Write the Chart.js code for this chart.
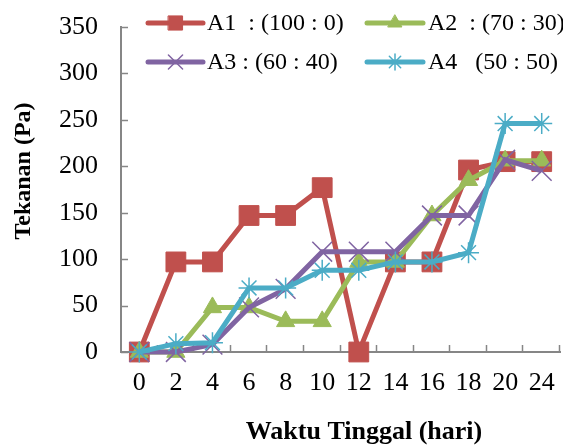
<!DOCTYPE html>
<html>
<head>
<meta charset="utf-8">
<script src="https://cdn.jsdelivr.net/npm/chart.js@4/dist/chart.umd.min.js"></script>
<style>
  html, body { margin: 0; padding: 0; background: #fff; }
</style>
</head>
<body>
<canvas id="myLineChart" width="563" height="445"></canvas>
<script>
const days = ['0', '2', '4', '6', '8', '10', '12', '14', '16', '18', '20', '24'];
const a1Values = [0, 97, 97, 147, 147, 177, 0, 97, 97, 196, 205, 205];
const a2Values = [0, 0, 48, 48, 33, 33, 97, 97, 147, 185, 206, 206];
const a3Values = [0, 0, 8, 48, 68, 108, 108, 108, 147, 147, 207, 195];
const a4Values = [0, 9, 10, 69, 69, 88, 88, 97, 97, 107, 246, 246];
const yTicks = [0, 50, 100, 150, 200, 250, 300, 350];

const serif = '"Liberation Serif", "Times New Roman", serif';
const axisGrey = '#868686';

const series = [
  { label: 'A1  : (100 : 0)', data: a1Values, color: '#C0504D', style: 'rect', radius: 14, legendRadius: 10, lw: 1 },
  { label: 'A2  : (70 : 30)', data: a2Values, color: '#9BBB59', style: 'triangle', radius: 10.5, legendRadius: 8, lw: 1 },
  { label: 'A3 : (60 : 40)', data: a3Values, color: '#8064A2', style: 'crossRot', radius: 14, legendRadius: 10, lw: 1.5 },
  { label: 'A4   (50 : 50)', data: a4Values, color: '#4BACC6', style: 'star', radius: 10.5, legendRadius: 8, lw: 1.5 }
];

// legend spots: [line start, line end, text x, y]
const legendSpots = [
  [148, 203, 207, 23],
  [367, 423, 428, 23],
  [148, 203, 207, 62],
  [367, 423, 428, 62]
];

const extrasPlugin = {
  id: 'extras',
  beforeDatasetsDraw(chart) {
    const ctx = chart.ctx;
    const y = chart.scales.y;
    const area = chart.chartArea;
    ctx.save();
    ctx.strokeStyle = axisGrey;
    ctx.lineWidth = 1.5;
    ctx.beginPath();
    // inward ticks on y
    yTicks.forEach(v => {
      const py = Math.round(y.getPixelForValue(v)) + 0.5;
      ctx.moveTo(area.left, py);
      ctx.lineTo(area.left + 7, py);
    });
    // inward ticks on x, between categories
    const step = (area.right - area.left) / days.length;
    for (let i = 1; i <= days.length; i++) {
      const px = Math.round(area.left + i * step) - 0.5;
      ctx.moveTo(px, area.bottom);
      ctx.lineTo(px, area.bottom - 7);
    }
    ctx.stroke();
    ctx.restore();
  },
  afterDraw(chart) {
    const ctx = chart.ctx;
    ctx.save();
    ctx.fillStyle = '#000';
    // axis titles
    ctx.font = 'bold 26px ' + serif;
    ctx.textAlign = 'center';
    ctx.textBaseline = 'middle';
    ctx.fillText('Waktu Tinggal (hari)', 364, 432);
    ctx.save();
    ctx.translate(24, 171);
    ctx.rotate(-Math.PI / 2);
    ctx.font = 'bold 24px ' + serif;
    ctx.fillText('Tekanan (Pa)', 0, 0);
    ctx.restore();

    // legend
    series.forEach((s, i) => {
      const [x0, x1, tx, ly] = legendSpots[i];
      ctx.strokeStyle = s.color;
      ctx.lineWidth = 5;
      ctx.lineCap = 'round';
      ctx.beginPath();
      ctx.moveTo(x0, ly);
      ctx.lineTo(x1, ly);
      ctx.stroke();
      ctx.fillStyle = s.color;
      ctx.lineWidth = s.lw;
      Chart.helpers.drawPoint(ctx, { pointStyle: s.style, radius: s.legendRadius, borderWidth: s.lw }, (x0 + x1) / 2, ly);
      ctx.fillStyle = '#000';
      ctx.font = '24px ' + serif;
      ctx.textAlign = 'left';
      ctx.textBaseline = 'middle';
      ctx.fillText(s.label, tx, ly + 1);
    });
    ctx.restore();
  }
};

const lineConfig = {
  type: 'line',
  data: {
    labels: days,
    datasets: series.map((s, i) => ({
      label: s.label,
      data: s.data,
      borderColor: s.color,
      backgroundColor: s.color,
      borderWidth: 5,
      pointStyle: s.style,
      pointRadius: s.radius,
      pointBorderWidth: s.lw,
      pointBorderColor: s.color,
      pointBackgroundColor: s.color,
      tension: 0,
      fill: false,
      clip: false,
      order: series.length - i
    }))
  },
  options: {
    responsive: false,
    animation: false,
    layout: { autoPadding: false, padding: { top: 27, right: 3, left: 0, bottom: 0 } },
    plugins: {
      legend: { display: false },
      tooltip: { enabled: false }
    },
    scales: {
      x: {
        offset: true,
        grid: { display: false, drawTicks: false },
        border: { display: true, color: axisGrey, width: 2 },
        ticks: {
          autoSkip: false,
          maxRotation: 0,
          padding: 16,
          color: '#000',
          font: { family: serif, size: 26 }
        },
        afterFit(scale) {
          scale.height = 93;
          scale.paddingLeft = 0;
          scale.paddingRight = 0;
        }
      },
      y: {
        min: 0,
        max: 350,
        grid: { display: false, drawTicks: false },
        border: { display: true, color: axisGrey, width: 2 },
        ticks: {
          stepSize: 50,
          padding: 23,
          color: '#000',
          font: { family: serif, size: 26 }
        },
        afterFit(scale) {
          scale.width = 121;
          scale.paddingTop = 0;
          scale.paddingBottom = 0;
        }
      }
    }
  },
  plugins: [extrasPlugin]
};

const myLineChart = new Chart(document.getElementById('myLineChart'), lineConfig);
</script>
</body>
</html>
